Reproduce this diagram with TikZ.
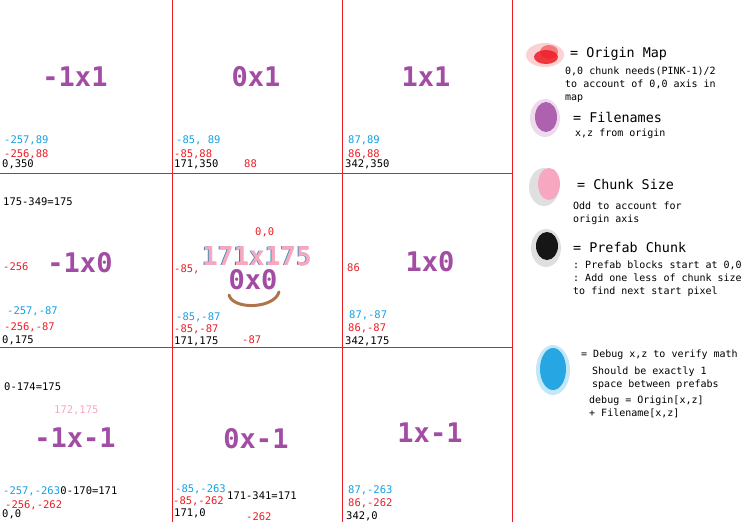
\documentclass[tikz,border=0pt]{standalone}
\usepackage{fontspec}
\setmonofont{DejaVu Sans Mono}
\usetikzlibrary{positioning}
\definecolor{gridred}{RGB}{232,30,36}
\definecolor{namepurple}{RGB}{163,76,164}
\definecolor{debugblue}{RGB}{20,160,225}
\definecolor{originred}{RGB}{236,28,36}
\definecolor{chunkpink}{RGB}{247,168,192}
\definecolor{smilebrown}{RGB}{176,116,76}

\begin{document}
\begin{tikzpicture}[x=1pt, y=-1pt,
      chunkname/.style={text=namepurple, inner sep=0,
                        font=\ttfamily\bfseries\fontsize{27}{27}\selectfont},
      small/.style={anchor=west, inner sep=0,
                    font=\ttfamily\fontsize{10.5}{12}\selectfont},
      dbg/.style={small, text=debugblue},
      org/.style={small, text=originred},
      pfb/.style={small, text=black},
      head/.style={anchor=west, inner sep=0,
                   font=\ttfamily\fontsize{13.4}{15}\selectfont},
      note/.style={anchor=west, inner sep=0, align=left,
                   font=\ttfamily\fontsize{10}{13}\selectfont},
      gridline/.style={gridred, line width=0.9pt}
    ]
    \useasboundingbox (0,0) rectangle (755,522);

    % chunk grid
    \foreach \x in {172,342,512}{ \draw[gridline] (\x,0) -- (\x,522); }
    \foreach \y in {173,347}{ \draw[gridline] (0,\y) -- (512,\y); }

    % filenames
    \node[chunkname] (c-1x1)  at (75,77)   {-1x1};
    \node[chunkname] (c0x1)   at (256,77)  {0x1};
    \node[chunkname] (c1x1)   at (426,77)  {1x1};
    \node[chunkname] (c-1x0)  at (80,263)  {-1x0};
    \node[chunkname] (c0x0)   at (253,280) {0x0};
    \node[chunkname] (c1x0)   at (430,262) {1x0};
    \node[chunkname] (c-1x-1) at (75,438)  {-1x-1};
    \node[chunkname] (c0x-1)  at (256,439) {0x-1};
    \node[chunkname] (c1x-1)  at (430,433) {1x-1};

    % top row corners
    \node[dbg] (d-1x1) at (4,140)   {-257,89};
    \node[org] (o-1x1) at (4,154)   {-256,88};
    \node[pfb] (p-1x1) at (2,164)   {0,350};
    \node[dbg] (d0x1)  at (176,140) {-85, 89};
    \node[org] (o0x1)  at (174,154) {-85,88};
    \node[pfb] (p0x1)  at (174,164) {171,350};
    \node[org] (o0x1b) at (244,164) {88};
    \node[dbg] (d1x1)  at (348,140) {87,89};
    \node[org] (o1x1)  at (348,154) {86,88};
    \node[pfb] (p1x1)  at (345,164) {342,350};

    % middle row
    \node[pfb] (w-1x0) at (3,202)   {175-349=175};
    \node[org] (a-1x0) at (3,267)   {-256};
    \node[dbg] (d-1x0) at (7,311)   {-257,-87};
    \node[org] (o-1x0) at (4,327)   {-256,-87};
    \node[pfb] (p-1x0) at (2,340)   {0,175};
    \node[org] (a0x0)  at (174,269) {-85,};
    \node[org] (org0)  at (255,232) {0,0};
    \node[text=debugblue!80!black, inner sep=0,
          font=\ttfamily\bfseries\fontsize{26}{26}\selectfont]
          (size0s) at (256.2,256) {171x175};
    \node[text=chunkpink, inner sep=0,
          font=\ttfamily\bfseries\fontsize{26}{26}\selectfont]
          (size0) at (257,256) {171x175};
    \draw[smilebrown, line width=3pt, line cap=round]
          (229,295) .. controls (233,310) and (274,309) .. (279,292);
    \node[dbg] (d0x0)  at (176,317) {-85,-87};
    \node[org] (o0x0)  at (174,329) {-85,-87};
    \node[pfb] (p0x0)  at (174,341) {171,175};
    \node[org] (b0x0)  at (242,340) {-87};
    \node[org] (a1x0)  at (347,268) {86};
    \node[dbg] (d1x0)  at (349,315) {87,-87};
    \node[org] (o1x0)  at (348,328) {86,-87};
    \node[pfb] (p1x0)  at (345,341) {342,175};

    % bottom row
    \node[pfb] (w-1x-1) at (4,387)  {0-174=175};
    \node[small, text=chunkpink] (s-1x-1) at (54,410) {172,175};
    \node[dbg] (d-1x-1) at (3,491)  {-257,-263};
    \node[pfb, right=0pt of d-1x-1] (v-1x-1) {0-170=171};
    \node[org] (o-1x-1) at (5,505)  {-256,-262};
    \node[pfb] (p-1x-1) at (2,514)  {0,0};
    \node[dbg] (d0x-1) at (175,489) {-85,-263};
    \node[org] (o0x-1) at (173,501) {-85,-262};
    \node[pfb] (p0x-1) at (174,513) {171,0};
    \node[pfb] (w0x-1) at (227,496) {171-341=171};
    \node[org] (b0x-1) at (246,517) {-262};
    \node[dbg] (d1x-1) at (348,490) {87,-263};
    \node[org] (o1x-1) at (348,503) {86,-262};
    \node[pfb] (p1x-1) at (346,516) {342,0};

    % legend paint blobs
    \fill[originred, opacity=0.2] (545,55) ellipse (19 and 12);
    \fill[originred, opacity=0.5] (549,52) ellipse (9 and 7);
    \fill[originred, opacity=0.85] (546,57) ellipse (12 and 7);
    \fill[namepurple, opacity=0.2] (545,118) ellipse (15 and 19);
    \fill[namepurple, opacity=0.85] (546,117) ellipse (11 and 15);
    \fill[black!50, opacity=0.25] (544,187) ellipse (15 and 19);
    \fill[chunkpink] (549,184) ellipse (11 and 16);
    \fill[black!50, opacity=0.25] (546,248) ellipse (15 and 19);
    \fill[black, opacity=0.9] (547,246) ellipse (11 and 14);
    \fill[debugblue, opacity=0.25] (553,370) ellipse (17 and 25);
    \fill[debugblue, opacity=0.9] (553,369) ellipse (13 and 21);

    % legend texts
    \node[head] (kOrigin) at (570,54)  {= Origin Map};
    \node[note, anchor=north west] (nOrigin) at (565,67)
          {0,0 chunk needs(PINK-1)/2\\to account of 0,0 axis in\\map};
    \node[head] (kName)   at (573,117) {= Filenames};
    \node[note] (nName)   at (575,134) {x,z from origin};
    \node[head] (kSize)   at (577,185) {= Chunk Size};
    \node[note, anchor=north west] (nSize) at (573,202)
          {Odd to account for\\origin axis};
    \node[head] (kPrefab) at (573,248) {= Prefab Chunk};
    \node[note, anchor=north west] (nPrefab) at (573,261)
          {: Prefab blocks start at 0,0\\: Add one less of chunk size\\to find next start pixel};
    \node[note] (kDebug)  at (581,355) {= Debug x,z to verify math};
    \node[note, anchor=north west] (nDebug) at (592,367)
          {Should be exactly 1\\space between prefabs};
    \node[note, anchor=north west] (fDebug) at (589,396)
          {debug = Origin[x,z]\\+ Filename[x,z]};
\end{tikzpicture}
\end{document}
